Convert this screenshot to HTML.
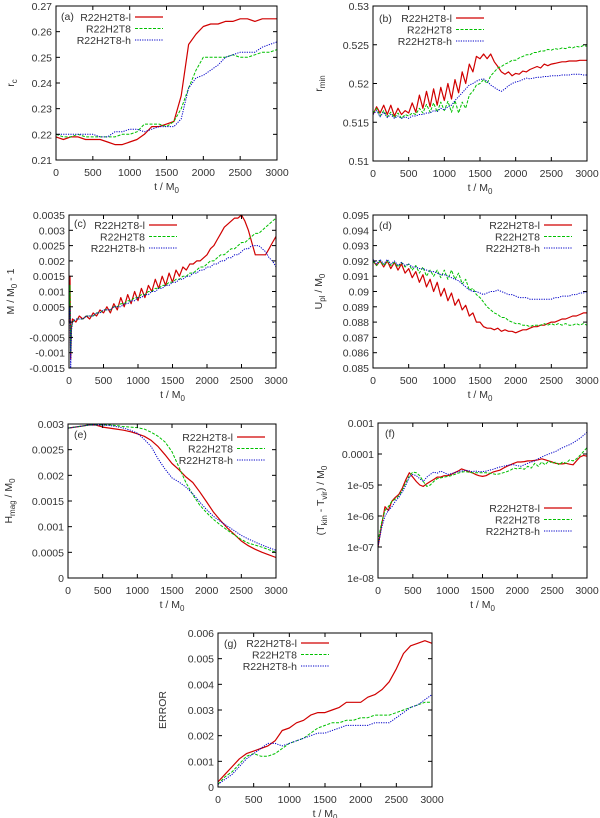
<!DOCTYPE html>
<html><head><meta charset="utf-8">
<style>
html,body{margin:0;padding:0;background:#fff;}
svg{display:block;font-family:"Liberation Sans",sans-serif;}
text{fill:#333;font-size:10.5px;}
</style></head>
<body>
<svg id="fig" width="600" height="818" viewBox="0 0 600 818" xmlns="http://www.w3.org/2000/svg"></svg>
<script>
// ---------- data ----------
const xTicks=[0,500,1000,1500,2000,2500,3000];
const seriesNames=["R22H2T8-l","R22H2T8","R22H2T8-h"];
// (a) rc, t step 100
const aRed=[0.219,0.218,0.219,0.219,0.218,0.218,0.218,0.217,0.216,0.216,0.217,0.218,0.220,0.223,0.223,0.224,0.225,0.235,0.255,0.259,0.262,0.263,0.263,0.264,0.264,0.265,0.265,0.264,0.265,0.265,0.265];
const aGreen=[0.220,0.219,0.219,0.220,0.219,0.219,0.219,0.219,0.219,0.220,0.220,0.221,0.224,0.224,0.224,0.223,0.225,0.230,0.238,0.245,0.250,0.250,0.250,0.250,0.251,0.250,0.250,0.251,0.252,0.252,0.253];
const aBlue=[0.220,0.220,0.220,0.220,0.220,0.220,0.219,0.219,0.221,0.221,0.222,0.222,0.221,0.222,0.223,0.223,0.223,0.226,0.238,0.242,0.243,0.245,0.247,0.250,0.251,0.252,0.252,0.252,0.254,0.255,0.256];
const aTicks=[0.21,0.22,0.23,0.24,0.25,0.26,0.27];
// (b) rmin, t step 50
const bRed=[0.516,0.517,0.5162,0.5172,0.5160,0.5172,0.5158,0.5168,0.5160,0.5165,0.5162,
0.5175,0.5163,0.5185,0.5168,0.5190,0.5170,0.5193,0.5172,0.5195,0.5178,
0.5200,0.5180,0.5205,0.5188,0.5215,0.5200,0.5225,0.5215,0.5235,0.5232,
0.5238,0.5232,0.5238,0.5228,0.5222,0.5215,0.5212,0.5215,0.5210,0.5213,
0.5212,0.5216,0.5215,0.5218,0.5220,0.5222,0.5220,0.5225,0.5223,0.5225,
0.5226,0.5227,0.5228,0.5228,0.5229,0.5229,0.5229,0.5230,0.5230,0.5230];
const bGreen=[0.5162,0.5168,0.5158,0.5165,0.5157,0.5163,0.5156,0.5162,0.5155,0.5160,0.5158,
0.5162,0.5160,0.5168,0.5162,0.5173,0.5163,0.5175,0.5163,0.5176,0.5165,
0.5177,0.5163,0.5178,0.5162,0.5176,0.5168,0.5185,0.5190,0.5198,0.5200,
0.5205,0.5200,0.5210,0.5215,0.5220,0.5222,0.5225,0.5227,0.5230,0.5230,
0.5233,0.5235,0.5237,0.5237,0.5240,0.5240,0.5242,0.5242,0.5244,0.5243,
0.5245,0.5244,0.5246,0.5245,0.5247,0.5246,0.5248,0.5247,0.5249,0.5248];
const bBlue=[0.5160,0.5165,0.5157,0.5163,0.5156,0.5160,0.5155,0.5158,0.5155,0.5157,0.5155,
0.5158,0.5158,0.5160,0.5160,0.5162,0.5162,0.5165,0.5164,0.5168,0.5166,
0.5170,0.5172,0.5178,0.5183,0.5188,0.5193,0.5198,0.5200,0.5203,0.5205,
0.5206,0.5203,0.5198,0.5195,0.5192,0.5190,0.5193,0.5197,0.5200,0.5202,
0.5203,0.5205,0.5207,0.5206,0.5207,0.5208,0.5208,0.5209,0.5209,0.5210,
0.5210,0.5210,0.5211,0.5211,0.5211,0.5212,0.5212,0.5212,0.5211,0.5211];
const bTicks=[0.51,0.515,0.52,0.525,0.53];
// (c) M/M0-1, first 4 samples at t=0,15,25,35 then step 50 from 50
const cStart=[0,15,25,35];
const cRed=[0,0.0015,-0.0012,-0.0002,
0.0001,0.0000,0.0002,0.0001,0.0002,0.0001,0.0003,0.0002,0.0004,0.0003,
0.0005,0.0003,0.0006,0.0004,0.0008,0.0005,0.0009,0.0006,0.0010,0.0007,
0.0011,0.0008,0.0012,0.0010,0.0014,0.0011,0.0015,0.0012,0.0016,0.0013,
0.0017,0.0015,0.0018,0.0017,0.0019,0.0019,0.0020,0.0020,0.0021,0.0022,
0.0024,0.0025,0.0027,0.0029,0.0031,0.0032,0.0033,0.0034,0.0034,0.0035,
0.0033,0.0030,0.0026,0.0022,0.0022,0.0022,0.0022,0.0024,0.0026,0.0028];
const cGreen=[0,0.0012,-0.0010,-0.0002,
0.0000,0.0001,0.0001,0.0001,0.0002,0.0002,0.0002,0.0003,0.0003,0.0004,
0.0004,0.0004,0.0005,0.0005,0.0006,0.0006,0.0007,0.0007,0.0008,0.0008,
0.0009,0.0009,0.0010,0.0010,0.0011,0.0011,0.0012,0.0012,0.0013,0.0013,
0.0014,0.0014,0.0015,0.0015,0.0016,0.0016,0.0017,0.0018,0.0018,0.0019,
0.0020,0.0020,0.0021,0.0022,0.0022,0.0023,0.0024,0.0024,0.0025,0.0026,
0.0026,0.0027,0.0028,0.0029,0.0029,0.0030,0.0031,0.0032,0.0033,0.0034];
const cBlue=[0,0.0005,-0.0015,-0.0003,
0.0000,0.0001,0.0001,0.0001,0.0002,0.0002,0.0002,0.0003,0.0003,0.0004,
0.0004,0.0004,0.0005,0.0005,0.0005,0.0006,0.0006,0.0007,0.0007,0.0008,
0.0008,0.0009,0.0009,0.0010,0.0010,0.0011,0.0011,0.0012,0.0012,0.0013,
0.0013,0.0014,0.0014,0.0015,0.0015,0.0016,0.0016,0.0017,0.0017,0.0018,
0.0018,0.0019,0.0019,0.0020,0.0020,0.0021,0.0021,0.0022,0.0022,0.0023,
0.0024,0.0024,0.0025,0.0025,0.0025,0.0024,0.0023,0.0021,0.0020,0.0018];
const cTicks=[-0.0015,-0.001,-0.0005,0,0.0005,0.001,0.0015,0.002,0.0025,0.003,0.0035];
// (d) Upl, t step 50
const dRed=[0.0920,0.0917,0.0920,0.0916,0.0920,0.0915,0.0919,0.0914,0.0918,0.0912,0.0915,
0.0909,0.0913,0.0906,0.0911,0.0903,0.0908,0.0900,0.0906,0.0897,0.0902,
0.0894,0.0899,0.0891,0.0895,0.0888,0.0891,0.0884,0.0886,0.0880,0.0880,
0.0877,0.0876,0.0876,0.0875,0.0876,0.0874,0.0875,0.0874,0.0874,0.0873,
0.0874,0.0875,0.0875,0.0876,0.0877,0.0877,0.0878,0.0878,0.0879,0.0880,
0.0880,0.0881,0.0882,0.0882,0.0883,0.0884,0.0884,0.0885,0.0886,0.0886];
const dGreen=[0.0920,0.0917,0.0920,0.0917,0.0920,0.0917,0.0919,0.0916,0.0919,0.0916,0.0918,
0.0914,0.0917,0.0912,0.0916,0.0910,0.0914,0.0910,0.0914,0.0909,0.0914,
0.0908,0.0914,0.0908,0.0912,0.0905,0.0908,0.0901,0.0902,0.0898,0.0896,
0.0893,0.0890,0.0888,0.0886,0.0885,0.0883,0.0883,0.0881,0.0880,0.0879,
0.0879,0.0878,0.0878,0.0877,0.0878,0.0878,0.0878,0.0879,0.0878,0.0879,
0.0878,0.0879,0.0878,0.0879,0.0878,0.0878,0.0879,0.0878,0.0879,0.0878];
const dBlue=[0.0921,0.0918,0.0921,0.0918,0.0921,0.0918,0.0920,0.0917,0.0919,0.0917,0.0918,
0.0916,0.0916,0.0915,0.0915,0.0914,0.0913,0.0913,0.0912,0.0911,0.0911,
0.0910,0.0909,0.0908,0.0907,0.0905,0.0903,0.0901,0.0900,0.0900,0.0899,
0.0898,0.0899,0.0900,0.0900,0.0901,0.0900,0.0899,0.0898,0.0898,0.0897,
0.0896,0.0896,0.0896,0.0895,0.0895,0.0895,0.0895,0.0895,0.0895,0.0895,
0.0896,0.0896,0.0897,0.0897,0.0897,0.0898,0.0898,0.0899,0.0899,0.0900];
const dTicks=[0.085,0.086,0.087,0.088,0.089,0.09,0.091,0.092,0.093,0.094,0.095];
// (e) Hmag, t step 100
const eRed=[0.00292,0.00294,0.00296,0.00298,0.00298,0.00294,0.00292,0.00290,0.00288,0.00285,0.00281,0.00276,0.00268,0.00256,0.00240,0.00223,0.00211,0.00197,0.00186,0.00168,0.00148,0.00128,0.00112,0.00097,0.00085,0.00072,0.00063,0.00056,0.00050,0.00045,0.00040];
const eGreen=[0.00292,0.00294,0.00296,0.00298,0.00298,0.00298,0.00298,0.00297,0.00295,0.00294,0.00293,0.00290,0.00284,0.00276,0.00265,0.00246,0.00216,0.00186,0.00162,0.00142,0.00127,0.00114,0.00103,0.00093,0.00084,0.00075,0.00068,0.00064,0.00060,0.00055,0.00050];
const eBlue=[0.00292,0.00294,0.00296,0.00298,0.00298,0.00298,0.00297,0.00295,0.00292,0.00288,0.00282,0.00270,0.00256,0.00232,0.00212,0.00195,0.00187,0.00177,0.00164,0.00148,0.00133,0.00120,0.00110,0.00101,0.00092,0.00083,0.00076,0.00070,0.00064,0.00059,0.00054];
const eTicks=[0,0.0005,0.001,0.0015,0.002,0.0025,0.003];
// (f) (Tkin - Tvir)/M0, log scale, t step 50
const fRed=[1e-7,5e-7,2e-6,1.5e-6,3e-6,4e-6,5e-6,8e-6,1.5e-5,2.5e-5,1.8e-5,
1.3e-5,1e-5,9e-6,1.1e-5,1.3e-5,1.5e-5,1.8e-5,1.8e-5,2e-5,2e-5,
2.2e-5,2.5e-5,2.8e-5,3.3e-5,3e-5,2.7e-5,2.5e-5,2.2e-5,2e-5,1.9e-5,
2e-5,2.3e-5,2.6e-5,2.8e-5,3e-5,3.5e-5,4e-5,4.5e-5,5e-5,5.5e-5,
5.5e-5,5.7e-5,6e-5,6e-5,6.2e-5,6.5e-5,7e-5,6.5e-5,6e-5,5.5e-5,
5e-5,4.8e-5,4.8e-5,5e-5,4.7e-5,4.5e-5,6e-5,8e-5,9e-5,8.5e-5];
const fGreen=[1.5e-7,6e-7,1.5e-6,2e-6,3e-6,3.5e-6,4.5e-6,7e-6,1.2e-5,2e-5,2.6e-5,
2.5e-5,2e-5,1.3e-5,9e-6,1e-5,1.3e-5,1.6e-5,1.7e-5,1.8e-5,1.9e-5,
2e-5,2.2e-5,2.4e-5,2.6e-5,2.7e-5,2.6e-5,2.5e-5,2.5e-5,2.5e-5,2.5e-5,
2.5e-5,2.4e-5,2.3e-5,2.2e-5,2.3e-5,2.5e-5,2.7e-5,3e-5,3.5e-5,3.3e-5,
3.5e-5,3.2e-5,4e-5,3.5e-5,5e-5,4e-5,5.5e-5,4.5e-5,6e-5,5e-5,
5.5e-5,4.5e-5,5.5e-5,5e-5,6.5e-5,6e-5,7e-5,9e-5,1.2e-4,1.6e-4];
const fBlue=[1e-7,4e-7,1e-6,1.5e-6,2e-6,3e-6,4e-6,6e-6,1e-5,1.8e-5,2.2e-5,
2e-5,1.6e-5,1.3e-5,1.8e-5,2.2e-5,2.6e-5,2.4e-5,2.8e-5,2.5e-5,2.2e-5,
2.3e-5,2.5e-5,2.7e-5,2.8e-5,3e-5,2.9e-5,2.7e-5,2.8e-5,2.7e-5,2.7e-5,
2.8e-5,3e-5,3.2e-5,3.5e-5,3.8e-5,4e-5,4.3e-5,4.5e-5,4.5e-5,4.2e-5,
4e-5,4.5e-5,5e-5,5.5e-5,6e-5,7e-5,8e-5,9e-5,1e-4,1.1e-4,
1.2e-4,1.4e-4,1.6e-4,1.8e-4,2e-4,2.3e-4,2.7e-4,3.2e-4,4e-4,5e-4];
const fTicks=[1e-8,1e-7,1e-6,1e-5,1e-4,1e-3];
const fTickLabels=["1e-08","1e-07","1e-06","1e-05","0.0001","0.001"];
// (g) ERROR, t step 100
const gRed=[0.0002,0.0005,0.0008,0.0011,0.0013,0.0014,0.0015,0.0016,0.0018,0.0022,0.0023,0.0025,0.0026,0.0028,0.0029,0.0029,0.0030,0.0031,0.0033,0.0033,0.0033,0.0035,0.0036,0.0038,0.0041,0.0046,0.0052,0.0055,0.0056,0.0057,0.0056];
const gGreen=[0.0001,0.0004,0.0006,0.0009,0.0012,0.0013,0.0012,0.0012,0.0013,0.0015,0.0017,0.0018,0.0019,0.0021,0.0023,0.0024,0.0025,0.0025,0.0026,0.0026,0.0027,0.0027,0.0028,0.0028,0.0028,0.0029,0.0030,0.0031,0.0032,0.0033,0.0033];
const gBlue=[0.0001,0.0003,0.0005,0.0008,0.0011,0.0013,0.0015,0.0017,0.0017,0.0016,0.0017,0.0018,0.0019,0.0020,0.0021,0.0021,0.0022,0.0023,0.0024,0.0024,0.0024,0.0024,0.0025,0.0025,0.0025,0.0027,0.0029,0.0031,0.0032,0.0034,0.0036];
const gTicks=[0,0.001,0.002,0.003,0.004,0.005,0.006];

// ---------- drawing ----------
const NS="http://www.w3.org/2000/svg";
const svg=document.getElementById('fig');
function mk(tag,attrs,parent,txt){const e=document.createElementNS(NS,tag);for(const k in attrs)e.setAttribute(k,attrs[k]);if(txt!==undefined)e.textContent=txt;(parent||svg).appendChild(e);return e;}
function steps(n,dt){const r=[];for(let i=0;i<n;i++)r.push(i*dt);return r;}
const colors=["#d00000","#00c000","#0000c8"];
const dashes=["none","3,1.5","1.2,1.2"];
const widths=[1.2,1,1];

function panel(p){
  const g=mk('g',{});
  
  
  const L=p.x0,R=p.x1,T=p.y0,B=p.y1;
  const xs=t=>L+(t/3000)*(R-L);
  const ys=p.log? v=>B-(Math.log10(v)-Math.log10(p.ymin))/(Math.log10(p.ymax)-Math.log10(p.ymin))*(B-T)
                : v=>B-(v-p.ymin)/(p.ymax-p.ymin)*(B-T);
  p.series.forEach((s,i)=>{
    let d='';
    s.forEach((v,k)=>{const X=xs(p.t[k]),Y=Math.max(T,Math.min(B,ys(v)));d+=(k?'L':'M')+X.toFixed(1)+' '+Y.toFixed(1);});
    const path=mk('path',{d:d,fill:'none',stroke:colors[i],'stroke-width':widths[i],'stroke-dasharray':dashes[i],'stroke-linejoin':'round'},g);
    
    
  });
  const fr=mk('rect',{x:L,y:T,width:R-L,height:B-T,fill:'none',stroke:'#000','stroke-width':1},g);
  
  
  xTicks.forEach(t=>{const X=xs(t);
    mk('line',{x1:X,y1:B,x2:X,y2:B-4,stroke:'#000'},g);mk('line',{x1:X,y1:T,x2:X,y2:T+4,stroke:'#000'},g);
    const tl=mk('text',{x:X,y:B+16,'text-anchor':'middle'},g,String(t));
    
    
  });
  p.yticks.forEach((v,k)=>{const Y=ys(v);
    mk('line',{x1:L,y1:Y,x2:L+4,y2:Y,stroke:'#000'},g);mk('line',{x1:R,y1:Y,x2:R-4,y2:Y,stroke:'#000'},g);
    const tl=mk('text',{x:L-4,y:Y+4,'text-anchor':'end'},g,p.ylabels?p.ylabels[k]:String(v));
    
    
  });
  const xt=mk('text',{x:(L+R)/2,y:B+30,'text-anchor':'middle'},g);
  xt.innerHTML='t / M<tspan font-size="8" dy="3">0</tspan>';
  
  
  const yt=mk('text',{transform:`translate(${p.ylx},${(T+B)/2}) rotate(-90)`,'text-anchor':'middle'},g);
  yt.innerHTML=p.ytitle;
  
  
  const pl=mk('text',{x:p.lab[0],y:p.lab[1]},g,'('+p.id+')');
  
  
  seriesNames.forEach((n,i)=>{const Y=p.leg[1]+i*11.5;
    const lt=mk('text',{x:p.leg[0],y:Y+4,'text-anchor':'end'},g,n);
    
    
    mk('line',{x1:p.leg[0]+4,y1:Y,x2:p.leg[0]+32,y2:Y,stroke:colors[i],'stroke-width':widths[i],'stroke-dasharray':dashes[i]},g);
  });
}
const t100=steps(31,100), t50=steps(61,50);
const tC=cStart.concat(steps(60,50).map(v=>v+50));
panel({id:'a',x0:56,x1:277,y0:6,y1:160,ymin:0.21,ymax:0.27,yticks:aTicks,series:[aRed,aGreen,aBlue],t:t100,
  ytitle:'r<tspan font-size="8" dy="3">c</tspan>',ylx:14,lab:[61,20],leg:[131,17]});
panel({id:'b',x0:373,x1:587,y0:6,y1:161,ymin:0.51,ymax:0.53,yticks:bTicks,series:[bRed,bGreen,bBlue],t:t50,
  ytitle:'r<tspan font-size="8" dy="3">min</tspan>',ylx:322,lab:[379,22],leg:[452,18]});
panel({id:'c',x0:69,x1:276,y0:215,y1:368,ymin:-0.0015,ymax:0.0035,yticks:cTicks,series:[cRed,cGreen,cBlue],t:tC,
  ytitle:'M / M<tspan font-size="8" dy="3">0</tspan><tspan dy="-3"> - 1</tspan>',ylx:14,lab:[74,227],leg:[145,225]});
panel({id:'d',x0:373,x1:587,y0:215,y1:368,ymin:0.085,ymax:0.095,yticks:dTicks,series:[dRed,dGreen,dBlue],t:t50,
  ytitle:'U<tspan font-size="8" dy="3">pl</tspan><tspan dy="-3"> / M</tspan><tspan font-size="8" dy="3">0</tspan>',ylx:322,lab:[379,229],leg:[540,225]});
panel({id:'e',x0:68,x1:276,y0:424,y1:578,ymin:0,ymax:0.003,yticks:eTicks,series:[eRed,eGreen,eBlue],t:t100,
  ytitle:'H<tspan font-size="8" dy="3">mag</tspan><tspan dy="-3"> / M</tspan><tspan font-size="8" dy="3">0</tspan>',ylx:12,lab:[74,438],leg:[233,437]});
panel({id:'f',x0:378,x1:587,y0:423,y1:578,ymin:1e-8,ymax:1e-3,log:true,yticks:fTicks,ylabels:fTickLabels,series:[fRed,fGreen,fBlue],t:t50,
  ytitle:'(T<tspan font-size="8" dy="3">kin</tspan><tspan dy="-3"> - T</tspan><tspan font-size="8" dy="3">vir</tspan><tspan dy="-3">) / M</tspan><tspan font-size="8" dy="3">0</tspan>',ylx:324,lab:[385,437],leg:[540,508]});
panel({id:'g',x0:218,x1:432,y0:633,y1:787,ymin:0,ymax:0.006,yticks:gTicks,series:[gRed,gGreen,gBlue],t:t100,
  ytitle:'ERROR',ylx:166,lab:[224,647],leg:[297,643]});
</script>
</body></html>
